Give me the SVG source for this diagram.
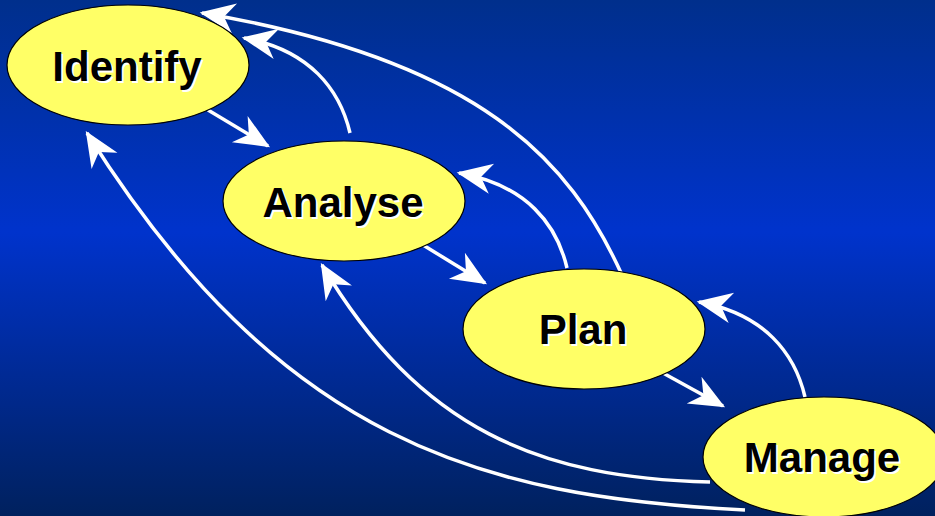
<svg xmlns="http://www.w3.org/2000/svg" width="935" height="516" viewBox="0 0 935 516">
<defs>
<linearGradient id="bg" x1="0" y1="0" x2="0" y2="1">
<stop offset="0" stop-color="#002f8c"/>
<stop offset="0.45" stop-color="#0033cc"/>
<stop offset="1" stop-color="#00215e"/>
</linearGradient>
<marker id="ah" markerUnits="userSpaceOnUse" markerWidth="40" markerHeight="40" viewBox="-30 -15 34 30" refX="0" refY="0" orient="auto">
<path d="M2,0 L-28,-13 L-19,0 L-28,13 Z" fill="#fff"/>
</marker>
<style>
.node ellipse{fill:#ffff66;stroke:#000;stroke-width:1.2}
.node text{font-family:"Liberation Sans",Arial,sans-serif;font-weight:bold;font-size:42px;text-anchor:middle}
.sh{fill:#fff}
.fg{fill:#000}
.conn path{fill:none;stroke:#fff;stroke-width:3.5;marker-end:url(#ah)}
</style>
</defs>
<rect width="935" height="516" fill="url(#bg)"/>
<g class="conn" id="connectors">
<path d="M208,110 L268,146"/>
<path d="M423,245 L485,283"/>
<path d="M663,373 L723,406"/>
<path d="M350,133 C340,90 310,50 244,38"/>
<path d="M567,268 C557,225 527,185 459,173"/>
<path d="M805,397 C795,354 765,314 699,302"/>
<path d="M622,275 C570,160 480,60 202,13"/>
<path d="M710,482 C540,478 420,430 322,265"/>
<path d="M745,510 C480,497 280,440 87,133"/>
</g>
<g class="node" id="identify">
<ellipse cx="128" cy="65" rx="121" ry="60"/>
<text class="sh" x="129" y="83">Identify</text>
<text class="fg" x="127" y="81">Identify</text>
</g>
<g class="node" id="analyse">
<ellipse cx="344" cy="201" rx="121" ry="60"/>
<text class="sh" x="345" y="219">Analyse</text>
<text class="fg" x="343" y="217">Analyse</text>
</g>
<g class="node" id="plan">
<ellipse cx="584" cy="329" rx="121" ry="60"/>
<text class="sh" x="585" y="346">Plan</text>
<text class="fg" x="583" y="344">Plan</text>
</g>
<g class="node" id="manage">
<ellipse cx="824" cy="457" rx="121" ry="60"/>
<text class="sh" x="824" y="474">Manage</text>
<text class="fg" x="822" y="472">Manage</text>
</g>
</svg>
